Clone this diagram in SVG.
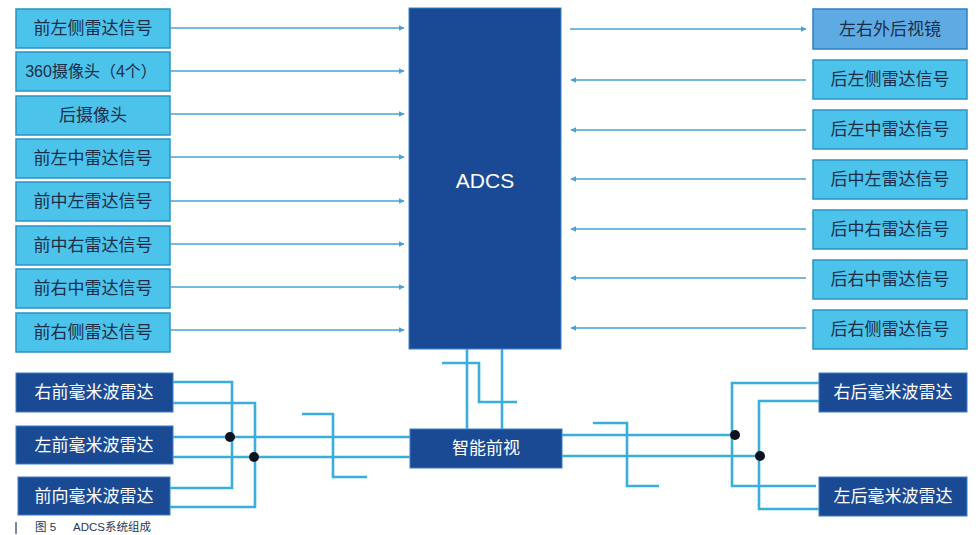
<svg xmlns="http://www.w3.org/2000/svg" width="979" height="535" viewBox="0 0 979 535">
<style>
.lb{fill:#4cc3ea;stroke:#2a92c4;stroke-width:1.5}
.mb{fill:#5eabe4;stroke:#2f7fc0;stroke-width:1.5}
.db{fill:#1b4a95;stroke:#3a7cc8;stroke-width:1}
.lt{font-family:"Liberation Sans","Noto Sans CJK SC",sans-serif;font-size:17px;fill:#1d2d48;text-anchor:middle;dominant-baseline:central}
.wt{font-family:"Liberation Sans","Noto Sans CJK SC",sans-serif;font-size:17px;fill:#ffffff;text-anchor:middle;dominant-baseline:central}
.ar{stroke:#4aa2d2;stroke-width:1.6;fill:none}
.bus{stroke:#39aedb;stroke-width:2.6;fill:none}
.dot{fill:#0d1220}
.cap{font-family:"Liberation Sans","Noto Sans CJK SC",sans-serif;font-size:11.5px;fill:#2a3550}
</style>
<defs>
<marker id="ah" viewBox="0 0 10 10" refX="9" refY="5" markerWidth="6" markerHeight="6" markerUnits="userSpaceOnUse" orient="auto">
<path d="M0,0 L10,5 L0,10 z" fill="#4aa2d2"/>
</marker>
</defs>

<g id="adcs"><rect x="409" y="8" width="152" height="341" fill="#1a4a95" stroke="#3b82c6" stroke-width="1"/><text x="485" y="180" class="wt" style="font-size:21px">ADCS</text></g>

<g id="l1"><rect class="lb" x="16" y="9" width="154" height="39"/><text class="lt" x="93" y="28.5">前左侧雷达信号</text></g>
<g id="l2"><rect class="lb" x="16" y="52" width="154" height="39"/><text class="lt" x="91" y="71.5" style="font-size:16px">360摄像头（4个）</text></g>
<g id="l3"><rect class="lb" x="16" y="96" width="154" height="39"/><text class="lt" x="93" y="115">后摄像头</text></g>
<g id="l4"><rect class="lb" x="16" y="139" width="154" height="39"/><text class="lt" x="93" y="158">前左中雷达信号</text></g>
<g id="l5"><rect class="lb" x="16" y="182" width="154" height="39"/><text class="lt" x="93" y="201.5">前中左雷达信号</text></g>
<g id="l6"><rect class="lb" x="16" y="226" width="154" height="39"/><text class="lt" x="93" y="245">前中右雷达信号</text></g>
<g id="l7"><rect class="lb" x="16" y="269" width="154" height="39"/><text class="lt" x="93" y="288.5">前右中雷达信号</text></g>
<g id="l8"><rect class="lb" x="16" y="313" width="154" height="39"/><text class="lt" x="93" y="332">前右侧雷达信号</text></g>

<g id="r1"><rect class="mb" x="813" y="9" width="154" height="40"/><text class="lt" x="890" y="29">左右外后视镜</text></g>
<g id="r2"><rect class="lb" x="813" y="60" width="154" height="39"/><text class="lt" x="890" y="79.5">后左侧雷达信号</text></g>
<g id="r3"><rect class="lb" x="813" y="110" width="154" height="39"/><text class="lt" x="890" y="129.5">后左中雷达信号</text></g>
<g id="r4"><rect class="lb" x="813" y="160" width="154" height="39"/><text class="lt" x="890" y="179.5">后中左雷达信号</text></g>
<g id="r5"><rect class="lb" x="813" y="210" width="154" height="39"/><text class="lt" x="890" y="229.5">后中右雷达信号</text></g>
<g id="r6"><rect class="lb" x="813" y="260" width="154" height="39"/><text class="lt" x="890" y="279.5">后右中雷达信号</text></g>
<g id="r7"><rect class="lb" x="813" y="310" width="154" height="39"/><text class="lt" x="890" y="329.5">后右侧雷达信号</text></g>

<g id="fv"><rect class="db" x="410" y="429" width="152" height="39"/><text class="wt" x="486" y="448.5">智能前视</text></g>

<g id="lfr"><rect class="db" x="16" y="373" width="157" height="39"/><text class="wt" x="94" y="392.5">右前毫米波雷达</text></g>
<g id="lfl"><rect class="db" x="16" y="426" width="157" height="38"/><text class="wt" x="94" y="445">左前毫米波雷达</text></g>
<g id="lff"><rect class="db" x="18" y="477" width="152" height="38"/><text class="wt" x="94" y="496">前向毫米波雷达</text></g>
<g id="rrr"><rect class="db" x="819" y="373" width="148" height="39"/><text class="wt" x="893" y="392.5">右后毫米波雷达</text></g>
<g id="rrl"><rect class="db" x="819" y="477" width="148" height="39"/><text class="wt" x="893" y="496.5">左后毫米波雷达</text></g>

<g id="connectors">
<line class="ar" x1="170" y1="28" x2="404" y2="28" marker-end="url(#ah)"/>
<line class="ar" x1="170" y1="71" x2="404" y2="71" marker-end="url(#ah)"/>
<line class="ar" x1="170" y1="114" x2="404" y2="114" marker-end="url(#ah)"/>
<line class="ar" x1="170" y1="157" x2="404" y2="157" marker-end="url(#ah)"/>
<line class="ar" x1="170" y1="201" x2="404" y2="201" marker-end="url(#ah)"/>
<line class="ar" x1="170" y1="244" x2="404" y2="244" marker-end="url(#ah)"/>
<line class="ar" x1="170" y1="287" x2="404" y2="287" marker-end="url(#ah)"/>
<line class="ar" x1="170" y1="330" x2="404" y2="330" marker-end="url(#ah)"/>

<line class="ar" x1="570" y1="29" x2="806" y2="29" marker-end="url(#ah)"/>
<line class="ar" x1="806" y1="80" x2="571" y2="80" marker-end="url(#ah)"/>
<line class="ar" x1="806" y1="130" x2="571" y2="130" marker-end="url(#ah)"/>
<line class="ar" x1="806" y1="179" x2="571" y2="179" marker-end="url(#ah)"/>
<line class="ar" x1="806" y1="229" x2="571" y2="229" marker-end="url(#ah)"/>
<line class="ar" x1="806" y1="278" x2="571" y2="278" marker-end="url(#ah)"/>
<line class="ar" x1="806" y1="328" x2="571" y2="328" marker-end="url(#ah)"/>

<polyline class="bus" points="173,382 232,382 232,488 170,488"/>
<polyline class="bus" points="173,403 255,403 255,507 170,507"/>
<line class="bus" x1="173" y1="437" x2="410" y2="437"/>
<line class="bus" x1="173" y1="457" x2="410" y2="457"/>
<polyline class="bus" points="302,414 333,414 333,477 367,477"/>

<line class="bus" x1="467" y1="349" x2="467" y2="429"/>
<line class="bus" x1="502" y1="349" x2="502" y2="429"/>
<polyline class="bus" points="442,363 479,363 479,402 517,402"/>

<line class="bus" x1="562" y1="435" x2="732" y2="435"/>
<line class="bus" x1="562" y1="456" x2="759" y2="456"/>
<polyline class="bus" points="819,383 732,383 732,486 816,486"/>
<polyline class="bus" points="819,401 759,401 759,509 819,509"/>
<polyline class="bus" points="593,423 627,423 627,486 659,486"/>

<circle class="dot" cx="230" cy="437" r="5"/>
<circle class="dot" cx="254" cy="457" r="5"/>
<circle class="dot" cx="735" cy="435" r="5"/>
<circle class="dot" cx="760" cy="456" r="5"/>
</g>

<rect x="15" y="522" width="2" height="12" fill="#7a8aa0"/>
<text class="cap" x="35" y="531">图 5</text>
<text class="cap" x="73" y="531">ADCS系统组成</text>
</svg>
